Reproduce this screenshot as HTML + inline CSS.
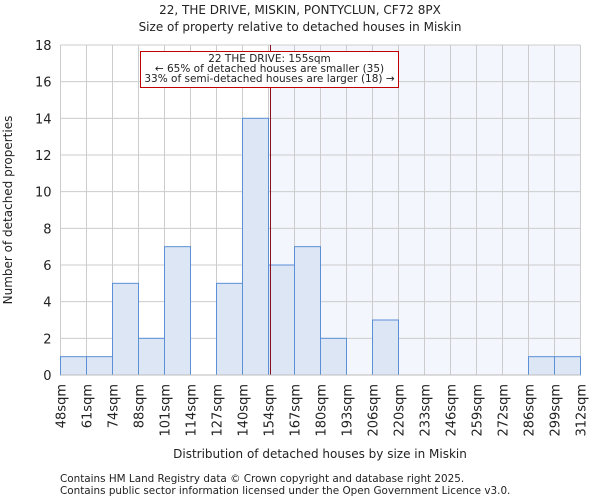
<!DOCTYPE html>
<html><head><meta charset="utf-8"><style>
body{margin:0;background:#fff;font-family:"DejaVu Sans","Liberation Sans",sans-serif}
svg text{font-family:"DejaVu Sans","Liberation Sans",sans-serif;fill:#222}
</style></head><body>
<svg id="chart" width="600" height="500" viewBox="0 0 600 500">
<text x="300" y="14" text-anchor="middle" font-size="12">22, THE DRIVE, MISKIN, PONTYCLUN, CF72 8PX</text>
<text x="300" y="31" text-anchor="middle" font-size="12">Size of property relative to detached houses in Miskin</text>
<g id="grid"></g><g id="bars"></g><g id="axes"></g>
<text x="320" y="458" text-anchor="middle" font-size="12">Distribution of detached houses by size in Miskin</text>
<text transform="translate(12,210) rotate(-90)" text-anchor="middle" font-size="12">Number of detached properties</text>
<text x="60" y="482" font-size="10.4">Contains HM Land Registry data © Crown copyright and database right 2025.</text>
<text x="60" y="494" font-size="10.4">Contains public sector information licensed under the Open Government Licence v3.0.</text>
</svg>
<script>
const binLabels=["48sqm","61sqm","74sqm","88sqm","101sqm","114sqm","127sqm","140sqm","154sqm","167sqm","180sqm","193sqm","206sqm","220sqm","233sqm","246sqm","259sqm","272sqm","286sqm","299sqm","312sqm"];
const binEdges=[48,61,74,88,101,114,127,140,154,167,180,193,206,220,233,246,259,272,286,299,312];
const counts=[1,1,5,2,7,0,5,14,6,7,2,0,3,0,0,0,0,0,1,1];
const yTicks=[0,2,4,6,8,10,12,14,16,18];
const propertySize=155;
const NS="http://www.w3.org/2000/svg";
const L=60.5,R=580.5,T=45,B=375,yMax=18;
const nb=counts.length;
const xi=i=>L+(R-L)*i/nb;
function xv(v){for(let i=0;i<binEdges.length-1;i++){if(v<=binEdges[i+1]){return xi(i)+(v-binEdges[i])/(binEdges[i+1]-binEdges[i])*(R-L)/nb;}}return R;}
const y=v=>B-(B-T)*v/yMax;
function mk(t,a,p){const e=document.createElementNS(NS,t);for(const k in a)e.setAttribute(k,a[k]);p.appendChild(e);return e;}
const grid=document.getElementById('grid'),bars=document.getElementById('bars'),axes=document.getElementById('axes');
const px=xv(propertySize);
const sh=mk('rect',{x:px,y:T,width:R-px,height:B-T,fill:'#f3f6fd'},grid);


yTicks.forEach(t=>{
 const l=mk('line',{x1:L,x2:R,y1:y(t),y2:y(t),stroke:'#ccc','stroke-width':1},grid);
 
 
 const tx=mk('text',{x:L-9,y:y(t)+5,'text-anchor':'end','font-size':13},axes);
 tx.textContent=t;
 
 
});
binLabels.forEach((lab,i)=>{
 const x=xi(i);
 const l=mk('line',{x1:x,x2:x,y1:T,y2:B,stroke:'#ccc','stroke-width':1},grid);
 
 
 const tx=mk('text',{transform:`translate(${x+5},${B+9}) rotate(-90)`,'text-anchor':'end','font-size':13},axes);
 tx.textContent=lab;
 
 
});
counts.forEach((c,i)=>{
 if(c<=0)return;
 const r=mk('rect',{x:xi(i),y:y(c),width:xi(i+1)-xi(i),height:B-y(c),fill:'#dce6f4',stroke:'#5b8fd6','stroke-width':1},bars);
 
 
});
const ax=mk('line',{x1:L,x2:R,y1:B,y2:B,stroke:'#bbb'},axes);


const pl=mk('line',{x1:px,x2:px,y1:T,y2:B,stroke:'#8a1020','stroke-width':1},bars);


const g=mk('g',{},bars);


mk('rect',{x:140.5,y:51.5,width:258,height:36,fill:'#fff',stroke:'#c00000','stroke-width':1},g);
["22 THE DRIVE: 155sqm","← 65% of detached houses are smaller (35)","33% of semi-detached houses are larger (18) →"].forEach((s,i)=>{
 const t=mk('text',{x:269.5,y:62+i*10,'text-anchor':'middle','font-size':10.5},g);
 t.textContent=s;
 
 
});
</script>
</body></html>
